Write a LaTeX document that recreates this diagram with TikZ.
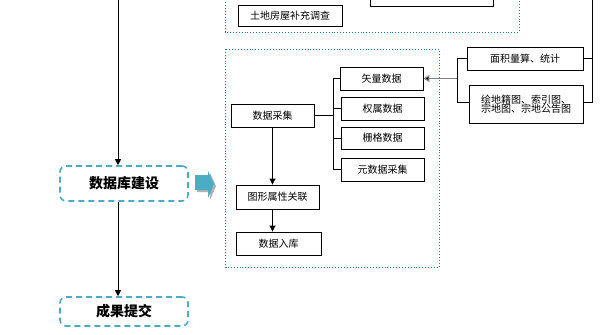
\documentclass[tikz,border=0pt]{standalone}
\usepackage{fontspec}
\setmainfont{Liberation Sans}
\newfontfamily\cjk{Noto Sans CJK SC}
\usetikzlibrary{arrows.meta,calc}
\definecolor{teal1}{HTML}{4BACC6}
\definecolor{dotc}{HTML}{1F7F9A}
\begin{document}
\begin{tikzpicture}[x=1pt,y=-1pt,
  box/.style={draw=black,line width=0.9pt,fill=white,inner sep=1pt,font=\cjk\fontsize{10}{10}\selectfont,align=center},
  mainbox/.style={draw=teal1,line width=1.6pt,dash pattern=on 6pt off 4pt,rounded corners=6pt,font=\cjk\bfseries\fontsize{14}{16}\selectfont,minimum width=128pt},
  dotbox/.style={draw=dotc,line width=0.9pt,dotted},
  conn/.style={draw=black,line width=0.9pt},
  arr/.style={conn,-{Triangle[length=6pt,width=6pt]}},
  grayarr/.style={draw=gray,line width=1.2pt,-{Triangle[length=6pt,width=7pt,fill=black]}}
]
\useasboundingbox (0,0) rectangle (601,334);
% dotted group boxes
\draw[dotbox] (225,-50) rectangle (519,32);
\draw[dotbox] (225.5,49) rectangle (439,267);
% top boxes
\node[box,minimum width=104pt,minimum height=21pt] (tdfw) at (290,15.5) {土地房屋补充调查};
\node[box,minimum width=123pt,minimum height=32pt] (topb) at (431.5,-10) {};
% right group
\node[box,minimum width=116pt,minimum height=23pt] (mj) at (525,58.5) {面积量算、统计};
\node[box,minimum width=114pt,minimum height=38pt,font=\cjk\fontsize{10}{9.5}\selectfont] (hd) at (526,104) {绘地籍图、索引图、\\宗地图、宗地公告图};
% data collection group
\node[box,minimum width=83pt,minimum height=23pt] (sjcj) at (272.5,115.5) {数据采集};
\node[box,minimum width=83pt,minimum height=23pt] (sl) at (381.5,78.5) {矢量数据};
\node[box,minimum width=83pt,minimum height=23pt] (qs) at (382.5,108.5) {权属数据};
\node[box,minimum width=83pt,minimum height=22pt] (sg) at (382.5,138) {栅格数据};
\node[box,minimum width=83pt,minimum height=23pt] (ysj) at (382.5,169.5) {元数据采集};
\node[box,minimum width=83pt,minimum height=24pt] (txsx) at (277.5,197) {图形属性关联};
\node[box,minimum width=85pt,minimum height=23pt] (sjrk) at (278.5,243.5) {数据入库};
% main flow
\node[mainbox,minimum height=35pt] (db) at (124,183.5) {数据库建设};
\node[mainbox,minimum height=29pt] (cg) at (124,311.5) {成果提交};
\coordinate (topL) at (118,0);
\coordinate (bx) at (333,0);
\coordinate (rb) at (457,0);
\coordinate (rr) at (592,0);
\draw[arr] (topL) -- (topL |- db.north);
\draw[arr] (db.south -| topL) -- (cg.north -| topL);
% bracket to data types
\draw[conn] (sjcj.east) -- (sjcj.east -| bx);
\draw[conn] (sl.west) -- (sl.west -| bx) -- (ysj.west -| bx) -- (ysj.west);
\draw[conn] (qs.west) -- (qs.west -| bx);
\draw[conn] (sg.west) -- (sg.west -| bx);
\draw[arr] (sjcj.south) -- (sjcj.south |- txsx.north);
\draw[arr] (sjcj.south |- txsx.south) -- (sjcj.south |- sjrk.north);
% right brackets
\draw[conn] (mj.west) -- (mj.west -| rb) -- ($(hd.west -| rb)+(0,-2)$) -- ($(hd.west)+(0,-2)$);
\draw[grayarr] (sl.east -| rb) -- (sl.east);
\draw[conn] (mj.east) -- (mj.east -| rr);
\draw[conn] ($(hd.east)+(0,-2)$) -- ($(hd.east -| rr)+(0,-2)$) -- (rr);
% blue block arrow with shadow
\fill[gray!60] (197,177) -- (210,177) -- (210,173) -- (216,186) -- (210,200) -- (210,192) -- (197,192) -- cycle;
\fill[teal1] (195,175) -- (208,175) -- (208,171) -- (214,184) -- (208,198) -- (208,190) -- (195,190) -- cycle;
\end{tikzpicture}
\end{document}
